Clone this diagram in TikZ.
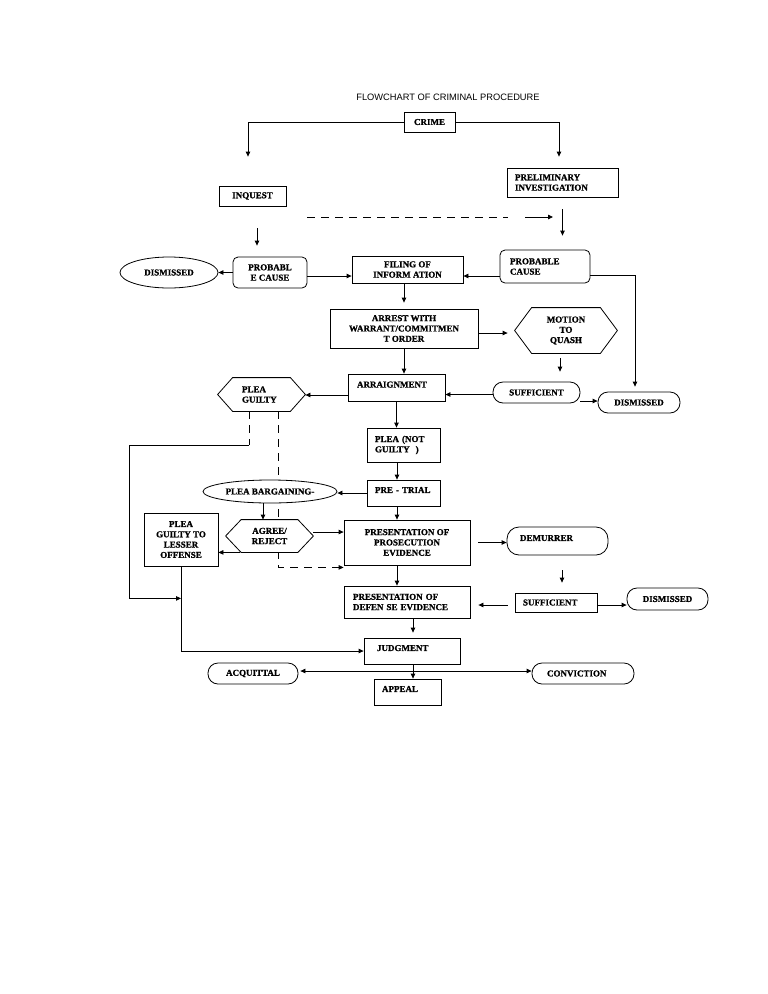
\documentclass[tikz,border=0pt]{standalone}
\usepackage{fontspec}
\setmainfont{Liberation Serif}[BoldFeatures={FakeBold=1}]
\newfontfamily\titlesans{Liberation Sans}
\usetikzlibrary{shapes.geometric,arrows.meta,backgrounds}

\newcommand{\boxfont}{\bfseries\fontsize{9}{10.3}\selectfont}
% outline of a hexagon node: name, inset
\newcommand{\hexout}[2]{\draw[line width=0.8pt] (#1.west) -- ([xshift=#2]#1.north west) -- ([xshift=-#2]#1.north east) -- (#1.east) -- ([xshift=-#2]#1.south east) -- ([xshift=#2]#1.south west) -- cycle;}

\tikzset{
  base/.style={draw, fill=white, line width=0.8pt, font=\boxfont, inner sep=0pt, align=center},
  sz/.style 2 args={minimum width=#1, minimum height=#2},
  box/.style={base, rectangle},
  rbox/.style={base, rectangle, rounded corners=5pt},
  pill/.style={base, rectangle, rounded corners=#1},
  pill/.default=10pt,
  oval/.style={base, ellipse},
  hexa/.style={base, draw=none},
  lft/.style={text width=#1, align=left},
  up/.style={text depth=6pt},
  conn/.style={line width=0.8pt, ->},
  dsh/.style={line width=0.8pt, dash pattern=on 8pt off 6pt},
}

\begin{document}
\begin{tikzpicture}[x=1pt, y=-1pt, >={Triangle[length=5pt,width=4.5pt]}]
	\useasboundingbox (0,0) rectangle (768,994);
	\node[font=\titlesans\fontsize{9.3}{11}\selectfont] (title) at (448,97) {FLOWCHART OF CRIMINAL PROCEDURE};

	% boxes
	\node[box, sz={51pt}{20pt}] (crime) at (429.5,122) {CRIME};
	\node[box, sz={111pt}{29pt}, lft=95pt] (prelim) at (562.5,182.5) {PRELIMINARY\\INVESTIGATION};
	\node[box, sz={67pt}{20pt}] (inquest) at (252.5,196) {INQUEST};
	\node[oval, sz={98pt}{31pt}] (dis1) at (169,272.5) {DISMISSED};
	\node[rbox, sz={74pt}{31pt}] (pcl) at (270,272.5) {PROBABL\\E CAUSE};
	\node[box, sz={111pt}{27pt}] (filing) at (407.5,269.5) {FILING OF\\INFORM ATION};
	\node[rbox, sz={90pt}{33pt}, lft=70pt] (pcr) at (545,266.5) {PROBABLE\\CAUSE};
	\node[box, sz={148pt}{39pt}] (arrest) at (404,328.5) {ARREST WITH\\WARRANT/COMMITMEN\\T ORDER};
	\node[hexa, sz={102pt}{45pt}] (motion) at (566,330.5) {MOTION\\TO\\QUASH};
	\node[pill, sz={87pt}{21pt}] (suf1) at (536.5,392.5) {SUFFICIENT};
	\node[pill, sz={82pt}{21pt}] (dis2) at (639,402.5) {DISMISSED};
	\node[box, sz={97pt}{27pt}, lft=79pt, up] (arraign) at (396.5,387.5) {ARRAIGNMENT};
	\node[hexa, sz={87pt}{33pt}, lft=39pt] (pguilty) at (261.5,394.5) {PLEA\\GUILTY};
	\node[box, sz={73pt}{34pt}, lft=57pt] (notg) at (403.5,445) {PLEA (NOT\\GUILTY\ \ )};
	\node[box, sz={73pt}{26pt}, lft=57pt, up] (pretrial) at (403.5,493) {PRE - TRIAL};
	\node[oval, sz={134pt}{23pt}] (bargain) at (270,491.5) {PLEA BARGAINING-};
	\node[box, sz={74pt}{53pt}] (lesser) at (181,539.5) {PLEA\\GUILTY TO\\LESSER\\OFFENSE};
	\node[hexa, sz={87pt}{32pt}] (agree) at (269.5,536) {AGREE/\\REJECT};
	\node[box, sz={126pt}{45pt}] (pros) at (407,542.5) {PRESENTATION OF\\PROSECUTION\\EVIDENCE};
	\node[pill=12pt, sz={101pt}{28pt}, lft=75pt, up] (demur) at (557.5,541) {DEMURRER};
	\node[box, sz={126pt}{32pt}, lft=108pt] (defense) at (407,602) {PRESENTATION OF\\DEFEN SE EVIDENCE};
	\node[box, sz={82pt}{19pt}, lft=66pt] (suf2) at (556,602.5) {SUFFICIENT};
	\node[pill, sz={81pt}{22pt}] (dis3) at (667.5,599) {DISMISSED};
	\node[box, sz={96pt}{26pt}, lft=70pt, up] (judg) at (412,651) {JUDGMENT};
	\node[box, sz={67pt}{26pt}, lft=51pt, up] (appeal) at (407.5,692) {APPEAL};
	\node[pill, sz={90pt}{21pt}] (acq) at (253,673.5) {ACQUITTAL};
	\node[pill, sz={102pt}{21pt}, lft=72pt] (conv) at (583,673.5) {CONVICTION};
	\hexout{motion}{17pt}
	\hexout{pguilty}{15pt}
	\hexout{agree}{15.5pt}

	% top part
	\draw[conn, shorten >=29pt] (crime.west) -| ([xshift=-4.5pt]inquest.north);
	\draw[conn, shorten >=11pt] (crime.east) -| ([xshift=-3.5pt]prelim.north);
	\draw[conn, shorten <=12pt, shorten >=14pt] (prelim.south) -- (prelim.south |- pcr.north);
	\coordinate (dshA) at (307,217);
	\coordinate (dshB) at (508,217);
	\coordinate (arrA) at (525,217);
	\coordinate (arrB) at (553,217);
	\draw[dsh] (dshA) -- (dshB);
	\draw[conn] (arrA) -- (arrB);
	\coordinate (inqS) at ([xshift=4.5pt]inquest.south);
	\draw[conn, shorten <=22pt, shorten >=11pt] (inqS) -- (inqS |- pcl.north);
	\draw[conn] (pcl.west) -- (dis1.east);
	\coordinate (pclE) at ([yshift=-3.5pt]pcl.east);
	\draw[conn] (pclE) -- (pclE -| filing.west);
	\coordinate (pcrW) at ([yshift=-9.5pt]pcr.west);
	\draw[conn] (pcrW) -- (pcrW -| filing.east);
	\draw[conn, shorten >=6pt] (filing.south -| arrest.north) -- (arrest.north);
	\coordinate (arrE) at ([yshift=-4.5pt]arrest.east);
	\draw[conn, shorten >=7pt] (arrE) -- (arrE -| motion.west);
	\coordinate (motS) at ([xshift=-6pt]motion.south);
	\draw[conn, shorten <=5pt, shorten >=10pt] (motS) -- (motS |- suf1.north);
	\coordinate (pcrE) at ([yshift=-8.5pt]pcr.east);
	\coordinate (dis2N) at ([xshift=-4pt]dis2.north);
	\draw[conn, shorten >=5pt] (pcrE) -| (dis2N);
	\coordinate (suf1W) at ([yshift=-2pt]suf1.west);
	\draw[conn] (suf1W) -- (suf1W -| arraign.east);
	\coordinate (suf1E) at ([yshift=-8.5pt]suf1.east);
	\draw[conn] (suf1E) -- (suf1E -| dis2.west);

	% middle part
	\draw[conn] (arrest.south) -- (arrest.south |- arraign.north);
	\coordinate (arrW) at ([yshift=-7.5pt]arraign.west);
	\draw[conn] (arrW) -- (arrW -| pguilty.east);
	\draw[conn] (arraign.south) -- (arraign.south |- notg.north);
	\coordinate (ngS) at ([xshift=-6.5pt]notg.south);
	\draw[conn] (ngS) -- (ngS |- pretrial.north);
	\draw[conn] (pretrial.west) -- (pretrial.west -| bargain.east);
	\coordinate (bgS) at ([xshift=-7pt]bargain.south);
	\draw[conn] (bgS) -- (bgS |- agree.north);
	\coordinate (ptS) at ([xshift=-6.5pt]pretrial.south);
	\draw[conn] (ptS) -- (ptS |- pros.north);
	\coordinate (agE) at ([yshift=4pt]agree.east);
	\draw[conn] (agE) -- (agE -| pros.west);
	\coordinate (agSW) at ([xshift=-29.5pt]agree.south);
	\draw[conn] (agSW) -- (agSW -| lesser.east);

	% plea guilty lines, behind the nodes
	\begin{scope}[on background layer]
		\coordinate (pgL) at ([xshift=-12.5pt]pguilty.south);
		\coordinate (pgR) at ([xshift=16.5pt]pguilty.south);
		\draw[dsh] (pgL) -- ++(0,34) coordinate (pgLend);
		\draw[dsh, ->] (pgR) |- ([yshift=-2pt]pros.south west);
	\end{scope}
	\draw[conn] (pgLend) -- ++(-120,0) |- ([yshift=-32pt]lesser.south);

	% lower part
	\coordinate (prS) at ([xshift=-10pt]pros.south);
	\draw[conn] (prS) -- (prS |- defense.north);
	\draw[conn, shorten <=8pt] (pros.east) -- (pros.east -| demur.west);
	\coordinate (dmS) at ([xshift=4.5pt]demur.south);
	\draw[conn, shorten <=15pt, shorten >=10pt] (dmS) -- (dmS |- suf2.north);
	\coordinate (s2W) at ([yshift=-2.5pt]suf2.west);
	\draw[conn, shorten <=7pt, shorten >=8pt] (s2W) -- (s2W -| defense.east);
	\coordinate (s2E) at ([yshift=-2.5pt]suf2.east);
	\draw[conn] (s2E) -- (s2E -| dis3.west);
	\coordinate (dfS) at ([xshift=6pt]defense.south);
	\draw[conn, shorten >=5pt] (dfS) -- (dfS |- judg.north);
	\draw[conn] (lesser.south) |- (judg.west);
	\coordinate (jdS) at ([xshift=1pt]judg.south);
	\draw[conn] (jdS) -- (jdS |- appeal.north);
	\coordinate (acqE) at ([yshift=2.5pt]acq.east);
	\draw[conn, <->, shorten <=2pt] (acqE) -- (acqE -| conv.west);
\end{tikzpicture}
\end{document}
